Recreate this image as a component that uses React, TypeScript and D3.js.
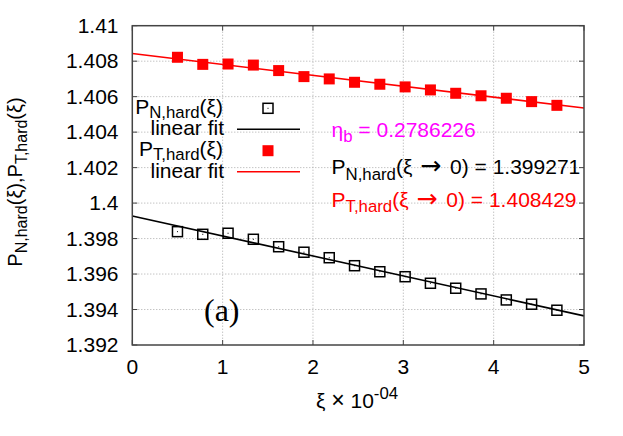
import { useMemo } from "react";
import * as d3 from "d3";

// positions along xi (units of 1e-4)
const xiValues = [0.5, 0.78, 1.06, 1.34, 1.62, 1.9, 2.18, 2.46, 2.74, 3.02, 3.3, 3.58, 3.86, 4.14, 4.42, 4.7];

const pNormal = [
  1.39839, 1.39824, 1.3983, 1.39796, 1.39754, 1.39723, 1.39692, 1.39647,
  1.39613, 1.39585, 1.39548, 1.3952, 1.39488, 1.39454, 1.3943, 1.39396,
];

const pTangential = [
  1.40822, 1.40782, 1.40784, 1.40778, 1.40747, 1.40713, 1.407, 1.40681,
  1.4067, 1.40655, 1.40638, 1.40619, 1.40605, 1.40591, 1.40572, 1.40551,
];

// linear fits: intercept at xi -> 0 and slope
const fitNormal = { intercept: 1.399271, slope: -0.001126 };
const fitTangential = { intercept: 1.408429, slope: -0.000614 };
const fitRange = [0, 5];

const xTicks = [0, 1, 2, 3, 4, 5];
const yTicks = [1.392, 1.394, 1.396, 1.398, 1.4, 1.402, 1.404, 1.406, 1.408, 1.41];
const yTickLabels = ["1.392", "1.394", "1.396", "1.398", "1.4", "1.402", "1.404", "1.406", "1.408", "1.41"];

const etaLabel = "0.2786226";
const normalLabel = "1.399271";
const tangentialLabel = "1.408429";

const FONT = "'Liberation Sans', Arial, Helvetica, sans-serif";
const ARROW_FONT = "'DejaVu Sans', sans-serif";

type Part = { t: string; sub?: boolean; sup?: boolean; font?: string; scale?: number; dx?: number };

// gnuplot-like enhanced text: sub/superscripts at 0.8 size
const Rich = ({
  parts,
  size,
  subShift = 0.27,
  ...rest
}: { parts: Part[]; size: number; subShift?: number } & React.SVGProps<SVGTextElement>) => {
  let shift = 0;
  const off = size * subShift;
  return (
    <text fontSize={size} fontFamily={FONT} {...rest}>
      {parts.map((p, i) => {
        const target = p.sub ? off : p.sup ? -size * 0.4 : 0;
        const dy = target - shift;
        shift = target;
        const fs = (p.sub || p.sup ? size * 0.8 : size) * (p.scale ?? 1);
        return (
          <tspan key={i} dy={dy} dx={p.dx} fontSize={fs} fontFamily={p.font}>
            {p.t}
          </tspan>
        );
      })}
    </text>
  );
};

export default function App() {
  const width = 623;
  const height = 436;
  const left = 132.3;
  const right = 584;
  const top = 25.7;
  const bottom = 345;

  const x = useMemo(() => d3.scaleLinear().domain([0, 5]).range([left, right]), []);
  const y = useMemo(() => d3.scaleLinear().domain([1.392, 1.41]).range([bottom, top]), []);

  const fitLine = (f: { intercept: number; slope: number }) =>
    d3
      .line<number>()
      .x((d) => x(d))
      .y((d) => y(f.intercept + f.slope * d))(fitRange) as string;

  const tick = 5;
  const axisColor = "#444";
  const gridColor = "#aaa";
  const sq = 10;
  const sqFill = 11;
  const fs = 21;

  return (
    <svg
      width={width}
      height={height}
      style={{ position: "absolute", left: 0, top: 0, background: "#fff" }}
    >
      <rect width={width} height={height} fill="#fff" />

      {/* grid */}
      {xTicks.slice(1, -1).map((t) => (
        <line key={`gx${t}`} x1={x(t)} x2={x(t)} y1={top} y2={bottom} stroke={gridColor} strokeWidth={1} strokeDasharray="1,2" />
      ))}
      {yTicks.slice(1, -1).map((t) => (
        <line key={`gy${t}`} x1={left} x2={right} y1={y(t)} y2={y(t)} stroke={gridColor} strokeWidth={1} strokeDasharray="1,2" />
      ))}

      {/* ticks */}
      {xTicks.map((t) => (
        <g key={`tx${t}`} stroke={axisColor} strokeWidth={1}>
          <line x1={x(t)} x2={x(t)} y1={bottom} y2={bottom - tick} />
          <line x1={x(t)} x2={x(t)} y1={top} y2={top + tick} />
        </g>
      ))}
      {yTicks.map((t) => (
        <g key={`ty${t}`} stroke={axisColor} strokeWidth={1}>
          <line x1={left} x2={left + tick} y1={y(t)} y2={y(t)} />
          <line x1={right} x2={right - tick} y1={y(t)} y2={y(t)} />
        </g>
      ))}

      {/* fits */}
      <path d={fitLine(fitNormal)} stroke="#000" strokeWidth={1.6} fill="none" />
      <path d={fitLine(fitTangential)} stroke="#f00" strokeWidth={1.6} fill="none" />

      {/* data */}
      {xiValues.map((v, i) => (
        <g key={`n${i}`}>
          <rect x={x(v) - sq / 2} y={y(pNormal[i]) - sq / 2} width={sq} height={sq} fill="none" stroke="#000" strokeWidth={1.5} />
          <rect x={x(v) - 0.5} y={y(pNormal[i]) - 0.5} width={1} height={1} fill="#000" />
        </g>
      ))}
      {xiValues.map((v, i) => (
        <rect key={`t${i}`} x={x(v) - sqFill / 2} y={y(pTangential[i]) - sqFill / 2} width={sqFill} height={sqFill} fill="#f00" />
      ))}

      {/* frame */}
      <rect x={left} y={top} width={right - left} height={bottom - top} fill="none" stroke={axisColor} strokeWidth={1.5} />

      {/* tick labels */}
      {xTicks.map((t) => (
        <text key={`lx${t}`} x={x(t)} y={374} textAnchor="middle" fontSize={fs} fontFamily={FONT}>
          {t}
        </text>
      ))}
      {yTicks.map((t, i) => (
        <text key={`ly${t}`} x={118.5} y={y(t) + 7.3} textAnchor="end" fontSize={fs} fontFamily={FONT}>
          {yTickLabels[i]}
        </text>
      ))}

      {/* axis titles */}
      <Rich
        parts={[{ t: "ξ " }, { t: "×", scale: 1.1 }, { t: " 10" }, { t: "-04", sup: true }]}
        size={fs}
        x={357}
        y={407.5}
        textAnchor="middle"
      />
      <Rich
        parts={[
          { t: "P" },
          { t: "N,hard", sub: true },
          { t: "(ξ),P" },
          { t: "T,hard", sub: true },
          { t: "(ξ)" },
        ]}
        size={20}
        x={0}
        y={0}
        textAnchor="middle"
        transform={`translate(21.5,182) rotate(-90)`}
      />

      {/* legend */}
      <Rich parts={[{ t: "P" }, { t: "N,hard", sub: true }, { t: "(ξ)" }]} size={fs} subShift={0.17} x={223} y={114} textAnchor="end" />
      <rect x={268 - sq / 2} y={108.3 - sq / 2} width={sq} height={sq} fill="none" stroke="#000" strokeWidth={1.5} />
      <rect x={267.5} y={107.8} width={1} height={1} fill="#000" />
      <text x={224} y={135.3} textAnchor="end" fontSize={fs} fontFamily={FONT}>linear fit</text>
      <line x1={237} x2={300} y1={129.3} y2={129.3} stroke="#000" strokeWidth={1.6} />
      <Rich parts={[{ t: "P" }, { t: "T,hard", sub: true }, { t: "(ξ)" }]} size={fs} subShift={0.17} x={223} y={156.2} textAnchor="end" />
      <rect x={268 - sqFill / 2} y={150.7 - sqFill / 2} width={sqFill} height={sqFill} fill="#f00" />
      <text x={224} y={177.7} textAnchor="end" fontSize={fs} fontFamily={FONT}>linear fit</text>
      <line x1={237} x2={300} y1={171.7} y2={171.7} stroke="#f00" strokeWidth={1.6} />

      {/* annotations */}
      <Rich parts={[{ t: "η" }, { t: "b", sub: true }, { t: ` = ${etaLabel}` }]} size={fs} x={331.5} y={136.7} fill="#f0f" />
      <Rich
        parts={[
          { t: "P" },
          { t: "N,hard", sub: true },
          { t: "(ξ " },
          { t: "→", font: ARROW_FONT, scale: 1.2, dx: 2 },
          { t: ` 0) = ${normalLabel}`, dx: 3 },
        ]}
        size={fs}
        x={331.5}
        y={174.3}
        fill="#000"
      />
      <Rich
        parts={[
          { t: "P" },
          { t: "T,hard", sub: true },
          { t: "(ξ " },
          { t: "→", font: ARROW_FONT, scale: 1.2, dx: 2 },
          { t: ` 0) = ${tangentialLabel}`, dx: 3 },
        ]}
        size={fs}
        x={331.5}
        y={206.7}
        fill="#f00"
      />

      <text x={204} y={321} fontSize={32} fontFamily="'Liberation Serif', 'Times New Roman', serif">
        (a)
      </text>
    </svg>
  );
}
